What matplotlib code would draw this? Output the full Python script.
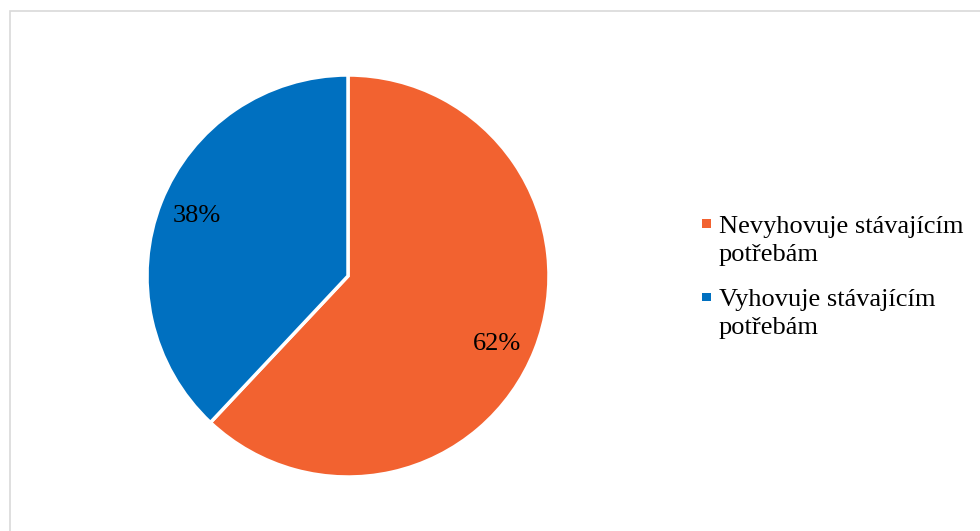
import matplotlib.pyplot as plt
import matplotlib.transforms as mtransforms
from matplotlib.patches import Rectangle

labels = ['Nevyhovuje stávajícím\npotřebám', 'Vyhovuje stávajícím\npotřebám']
shares = [62, 38]
colors = ['#F26230', '#0070C0']

plt.rcParams['font.family'] = ['Liberation Serif', 'DejaVu Serif']

W, H = 980, 531
fig = plt.figure(figsize=(W / 100, H / 100), dpi=100)

# pie centre (348, 276) px, radius ~201 px
cx, cy, r = 348, 276, 201
pad = 1.02
ax = fig.add_axes([(cx - r * pad) / W, (H - cy - r * pad) / H, 2 * r * pad / W, 2 * r * pad / H])
wedges, texts, autotexts = ax.pie(
    shares, colors=colors, startangle=90, counterclock=False,
    autopct='%1.0f%%', pctdistance=0.81,
    wedgeprops=dict(edgecolor='white', linewidth=2.5),
    textprops=dict(fontsize=19, color='black'))
ax.set_xlim(-pad, pad)
ax.set_ylim(-pad, pad)
# Excel puts the big slice's label a bit lower than the mid-angle
autotexts[0].set_transform(mtransforms.offset_copy(autotexts[0].get_transform(), fig=fig,
                                                    x=-2, y=-8, units='dots'))

# legend drawn by hand so the marker sits on the first line of each label
px = lambda x, y: (x / W, 1 - y / H)
line_h = 28
for i, (lab, c) in enumerate(zip(labels, colors)):
    y0 = 233 + i * 73  # baseline of first line
    fig.add_artist(Rectangle(px(702, y0 - 5), 8.5 / W, 8.5 / H, transform=fig.transFigure,
                             facecolor=c, edgecolor='none'))
    n_extra = lab.count('\n')
    # 'baseline' anchors the last line in matplotlib
    fig.text(*px(719, y0 + n_extra * line_h), lab, fontsize=19, va='baseline', ha='left',
             linespacing=1.33)

# thin chart-area border (cropped at right/bottom)
fig.add_artist(Rectangle((9.5 / W, -0.01), 1.0, 1 - 11.5 / H + 0.01,
                         transform=fig.transFigure, fill=False,
                         edgecolor='#d9d9d9', linewidth=1.2))

fig.savefig('out.png', dpi=100)
